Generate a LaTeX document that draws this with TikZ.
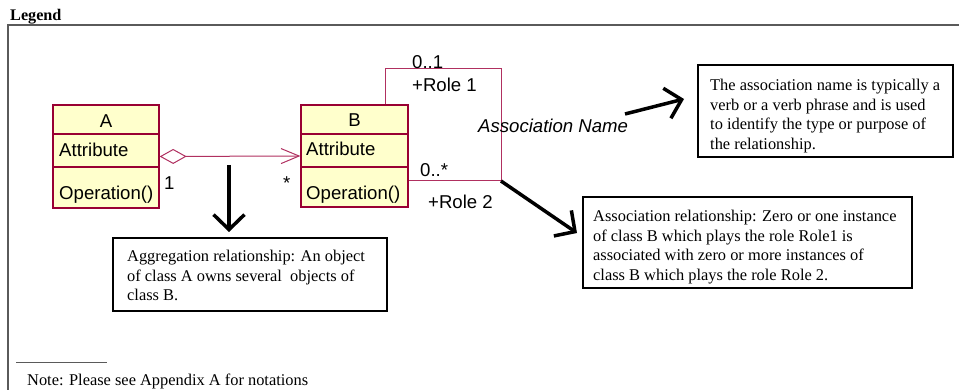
\documentclass[tikz,border=0pt]{standalone}
\usepackage{fontspec}
\setmainfont{Liberation Serif}
\newfontfamily\arialf{Liberation Sans}
\usetikzlibrary{arrows.meta}
\definecolor{umlred}{RGB}{153,0,51}
\definecolor{umlline}{RGB}{176,48,96}
\definecolor{umlfill}{RGB}{255,255,204}
\definecolor{framegray}{RGB}{90,90,90}
\begin{document}
\begin{tikzpicture}[x=1pt,y=-1pt,
  classbox/.style={draw=umlred, line width=1.3pt, fill=umlfill, inner sep=0pt},
  classline/.style={draw=umlred, line width=1.3pt},
  ulabel/.style={font=\arialf\fontsize{18.6}{20}\selectfont, anchor=base west, inner sep=0pt},
  notebox/.style={draw=black, line width=2.2pt, inner sep=0pt},
  notetext/.style={font=\fontsize{16.4}{19.7}\selectfont, align=left, anchor=north west, inner sep=0pt},
  bigarrow/.style={line width=3.5pt, -{Straight Barb[length=15pt,width=31pt]}},
  assocline/.style={draw=umlline, line width=1pt},
]
\useasboundingbox (0,0) rectangle (959,390);
% frame
\draw[framegray, line width=1.3pt] (959,25) -- (8,25) -- (8,390);
\node[anchor=base west, inner sep=0pt, font=\bfseries\fontsize{16.2}{18}\selectfont] (legend) at (10,21) {Legend};

% class A
\node[classbox, minimum width=106pt, minimum height=103pt] (A) at (106,156.5) {};
\draw[classline] (A.west |- 0,134) -- (A.east |- 0,134);
\draw[classline] (A.west |- 0,167) -- (A.east |- 0,167);
\node[ulabel, anchor=base] (An) at (106,128) {A};
\node[ulabel] (Aa) at (59,157) {Attribute};
\node[ulabel] (Ao) at (59,200) {Operation()};

% class B
\node[classbox, minimum width=107pt, minimum height=102pt] (B) at (354.5,156) {};
\draw[classline] (B.west |- 0,134) -- (B.east |- 0,134);
\draw[classline] (B.west |- 0,167) -- (B.east |- 0,167);
\node[ulabel, anchor=base] (Bn) at (354.5,127) {B};
\node[ulabel] (Ba) at (306,156) {Attribute};
\node[ulabel] (Bo) at (306,200) {Operation()};

% aggregation
\draw[assocline, {Diamond[open, length=27pt, width=15pt]}-{Straight Barb[length=18pt, width=15pt]}] (A.east) -- (B.west);
\node[ulabel] (m1) at (164,190) {1};
\node[ulabel] (m2) at (283,190) {*};

% association
\coordinate (c1) at (385,69);
\coordinate (c2) at (501,69);
\coordinate (c3) at (501,181);
\draw[assocline] (B.north -| c1) -- (c1) -- (c2) -- (c3) -- (B.east |- c3);
\node[ulabel] (r1m) at (412,69) {0..1};
\node[ulabel] (r1) at (412,92) {+Role 1};
\node[ulabel] (r2m) at (420,177) {0..*};
\node[ulabel] (r2) at (428,209) {+Role 2};
\node[ulabel, font=\arialf\itshape\fontsize{18.6}{20}\selectfont] (aname) at (478,133) {Association Name};

% notes
\node[notebox, minimum width=255pt, minimum height=92pt] (n1) at (825.5,111) {};
\node[notetext] (n1t) at (710,78.8) {The association name is typically a\\verb or a verb phrase and is used\\to identify the type or purpose of\\the relationship.};
\node[notebox, minimum width=329pt, minimum height=91pt] (n2) at (747.5,242.5) {};
\node[notetext] (n2t) at (593,209.8) {Association relationship: Zero or one instance\\of class B which plays the role Role1 is\\associated with zero or more instances of\\class B which plays the role Role 2.};
\node[notebox, minimum width=274pt, minimum height=73pt] (n3) at (250,274.5) {};
\node[notetext] (n3t) at (127,249.8) {Aggregation relationship: An object\\of class A owns several\ \ objects of\\class B.};

% arrows
\coordinate (a1s) at (229,165);
\coordinate (a1e) at (229,232);
\draw[bigarrow] (a1s) -- (a1e);
\coordinate (a2e) at (577,233);
\draw[bigarrow] (c3) -- (a2e);
\coordinate (a3s) at (625,114);
\coordinate (a3e) at (684,99);
\draw[bigarrow] (a3s) -- (a3e);

% footnote
\coordinate (f1) at (16,362);
\coordinate (f2) at (107,362);
\draw[framegray, line width=1pt] (f1) -- (f2);
\node[anchor=base west, inner sep=0pt, font=\fontsize{16.4}{19}\selectfont] (note) at (27,385) {Note: Please see Appendix A for notations};
\end{tikzpicture}
\end{document}
